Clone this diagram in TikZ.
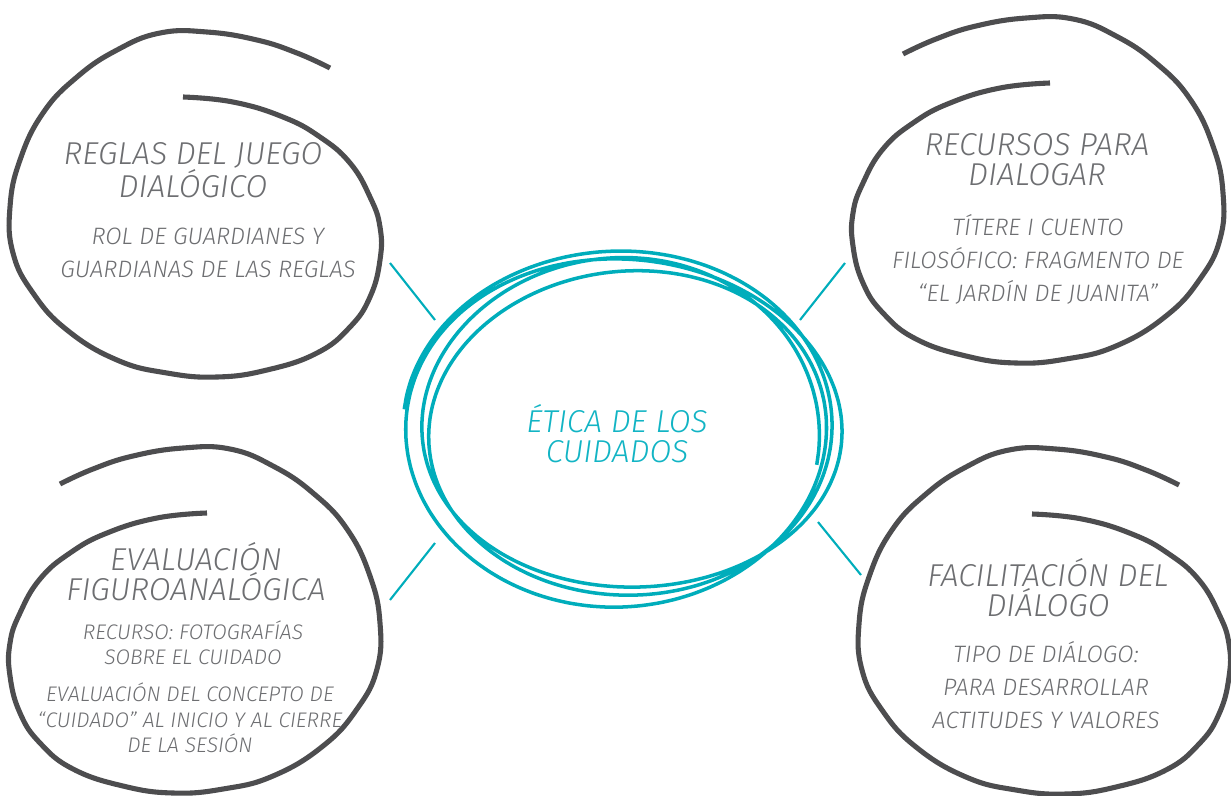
\documentclass[tikz,border=0pt]{standalone}
\usepackage{fontspec}
\newfontfamily\handfont{Fira Sans Light Italic}
\definecolor{swirlgray}{HTML}{4D4D4F}
\definecolor{textgray}{HTML}{6D6E71}
\definecolor{tealline}{HTML}{00ADBB}
\definecolor{tealtext}{HTML}{12B4C4}
\tikzset{
  swirlline/.style={draw=swirlgray,line width=2.9pt,line cap=butt},
  scribble/.style={draw=tealline,line width=2pt},
  link/.style={draw=tealline,line width=1.2pt},
  head/.style={align=center,text=textgray,inner sep=0pt,font=\handfont\fontsize{18}{17}\selectfont},
  body/.style={align=center,text=textgray,inner sep=0pt,font=\handfont\fontsize{13.5}{18.8}\selectfont},
  smallbody/.style={body,font=\handfont\fontsize{12}{14.5}\selectfont},
}
% spiral round a topic: centre x, centre y, side (1 or -1)
\newcommand{\swirl}[3]{%
  \begin{scope}[shift={(#1,#2)},xscale=#3]
    \draw[swirlline] plot[smooth,tension=0.75] coordinates {(-14,-103) (36,-98) (86,-83) (123,-63) (153,-37) (173,-3) (183,27) (183,60) (173,97) (153,127) (120,153) (70,170) (20,177) (-30,173) (-80,160) (-130,130) (-164,93) (-184,53) (-187,7) (-177,-40) (-154,-87) (-120,-123) (-80,-150) (-37,-167) (10,-168) (60,-160) (100,-147) (133,-132)};
  \end{scope}}

\begin{document}
\begin{tikzpicture}[x=0.02cm,y=-0.02cm]
\useasboundingbox (0,0) rectangle (1231,795);

% the four spirals
\swirl{197}{200}{1}
\swirl{1036}{186}{-1}
\swirl{193}{616}{-1}
\swirl{1046}{617}{1}

% central scribble
\draw[scribble] plot[smooth,variable=\t,domain=175:-1090,samples=260]
  ({624+(208+13*sin(0.43*\t))*cos(\t)},{430-(168+11*sin(0.61*\t+40))*sin(\t)+7*sin(0.3*\t)*cos(\t)});
\node[head,text=tealtext] (etica) at (617,434) {ÉTICA DE LOS\\CUIDADOS};

% topics
\node[head] (reglas) at (193,170) {REGLAS DEL JUEGO\\DIALÓGICO};
\node[body] (reglasB) at (208,253) {ROL DE GUARDIANES Y\\GUARDIANAS DE LAS REGLAS};

\node[head] (recursos) at (1037,160) {RECURSOS PARA\\DIALOGAR};
\node[body] (recursosB) at (1038,259) {TÍTERE I CUENTO\\FILOSÓFICO: FRAGMENTO DE\\“EL JARDÍN DE JUANITA”};

\node[head] (evaluacion) at (196,572) {EVALUACIÓN\\FIGUROANALÓGICA};
\node[smallbody] (evaluacionB) at (193,643) {RECURSO: FOTOGRAFÍAS\\SOBRE EL CUIDADO};
\node[smallbody] (evaluacionC) at (190,718) {EVALUACIÓN DEL CONCEPTO DE\\“CUIDADO” AL INICIO Y AL CIERRE\\DE LA SESIÓN};

\node[head] (facilitacion) at (1048,588) {FACILITACIÓN DEL\\DIÁLOGO};
\node[body] (facilitacionB) at (1046,685) {TIPO DE DIÁLOGO:\\PARA DESARROLLAR\\ACTITUDES Y VALORES};

% links
\coordinate (tlA) at (390,263); \coordinate (tlB) at (435,320);
\coordinate (trA) at (845,263); \coordinate (trB) at (800,320);
\coordinate (blA) at (435,543); \coordinate (blB) at (390,600);
\coordinate (brA) at (818,522); \coordinate (brB) at (861,575);
\draw[link] (tlA) -- (tlB);
\draw[link] (trA) -- (trB);
\draw[link] (blA) -- (blB);
\draw[link] (brA) -- (brB);
\end{tikzpicture}
\end{document}
